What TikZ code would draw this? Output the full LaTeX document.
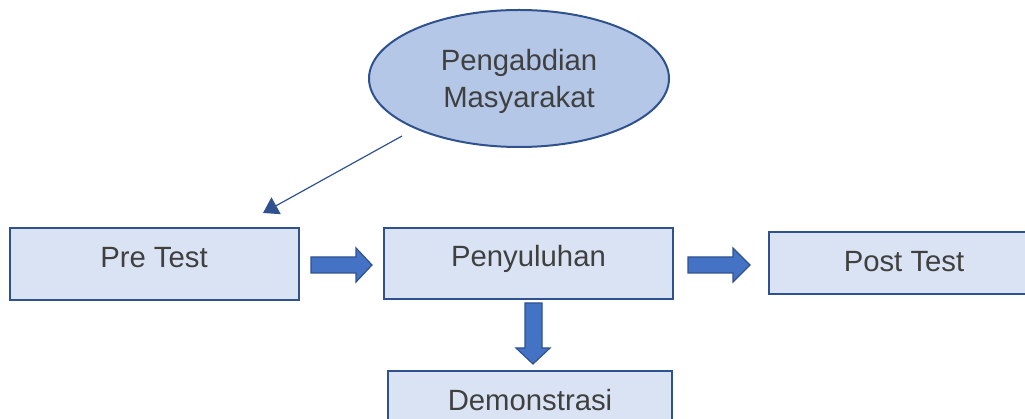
\documentclass[tikz,border=0pt]{standalone}
\usepackage{fontspec}
\setmainfont{Liberation Sans}
\usetikzlibrary{arrows.meta,shapes.geometric}
\definecolor{boxfill}{HTML}{DAE3F3}
\definecolor{boxline}{HTML}{2F528F}
\definecolor{ellfill}{HTML}{B4C7E7}
\definecolor{arrfill}{HTML}{4472C4}
\definecolor{txtcol}{HTML}{404040}
\begin{document}
\begin{tikzpicture}[x=1pt,y=-1pt,
  stepbox/.style={draw=boxline, fill=boxfill, line width=2pt, rectangle, inner sep=0pt,
    text=txtcol, font=\fontsize{29.3}{34}\selectfont, text height=21pt},
  ellbox/.style={draw=boxline, fill=ellfill, line width=2pt, ellipse, inner sep=0pt,
    minimum width=300pt, minimum height=137pt},
  elltext/.style={text=txtcol, font=\fontsize{29.3}{37}\selectfont, align=center, inner sep=0pt},
  blockarrow/.style={draw=boxline, fill=arrfill, line width=1.2pt, line join=miter},
  thinarrow/.style={draw=boxline, line width=1.2pt, -{Triangle[length=15pt,width=19pt]}}]
\useasboundingbox (0,0) rectangle (1025,419);
\clip (0,0) rectangle (1025,419);

% ellipse
\node[ellbox] (pm) at (519,78.5) {};
\node[elltext] (pmtext) at (519,81.5) {Pengabdian\\Masyarakat};

% boxes
\node[stepbox, minimum width=289pt, minimum height=72pt, text depth=14.2pt] (pre) at (154,264) {Pre Test};
\node[stepbox, minimum width=289pt, minimum height=71pt, text depth=15.2pt] (pen) at (528.5,263.5) {Penyuluhan};
\node[stepbox, minimum width=270pt, minimum height=62pt, text depth=4.2pt] (post) at (904,263) {Post Test};
\node[stepbox, minimum width=284pt, minimum height=72pt, text depth=14.2pt] (demo) at (530,407) {Demonstrasi};

% thin arrow
\coordinate (a1) at (402,136);
\coordinate (a2) at (263,213);
\draw[thinarrow] (a1) -- (a2);

% block arrows
\draw[blockarrow] (311,257) -- (356,257) -- (356,248) -- (372,265) -- (356,282) -- (356,273) -- (311,273) -- cycle;
\draw[blockarrow] (688,257) -- (733,257) -- (733,248) -- (750,265) -- (733,282) -- (733,273) -- (688,273) -- cycle;
\draw[blockarrow] (525,303) -- (542,303) -- (542,348) -- (550,348) -- (533,364) -- (516,348) -- (525,348) -- cycle;
\end{tikzpicture}
\end{document}
